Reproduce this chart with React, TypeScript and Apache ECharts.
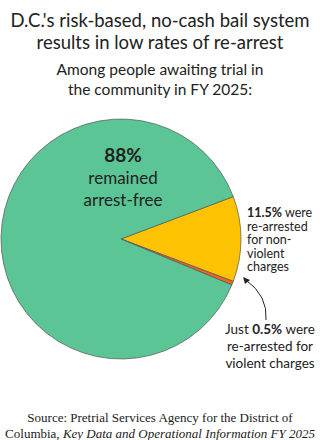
import React, { useEffect, useRef } from "react";
import * as echarts from "echarts";

const categories = ["Re-arrested, non-violent charges", "Re-arrested, violent charges", "Remained arrest-free"];
const values = [11.5, 0.5, 88];
const colors = ["#fdc202", "#f0651d", "#5bc596"];

const titleLines = ["D.C.'s risk-based, no-cash bail system", "results in low rates of re-arrest"];
const subtitleLines = ["Among people awaiting trial in", "the community in FY 2025:"];
const sourceLine1 = "Source: Pretrial Services Agency for the District of";
const sourceLine2a = "Columbia, ";
const sourceLine2b = "Key Data and Operational Information FY 2025";

const SANS = "Lato, 'Noto Sans', sans-serif";
const SERIF = "'Liberation Serif', 'DejaVu Serif', serif";

export default function App() {
  const ref = useRef<HTMLDivElement>(null);
  useEffect(() => {
    document.body.style.margin = "0";
    const chart = echarts.init(ref.current!, null, { renderer: "svg" });
    const pct = (i: number) => `${values[i]}%`;
    chart.setOption({
      animation: false,
      backgroundColor: "#ffffff",
      series: [
        {
          type: "pie",
          center: [121, 239],
          radius: 120,
          startAngle: 20.7,
          clockwise: true,
          z: 1,
          label: { show: false },
          labelLine: { show: false },
          emphasis: { disabled: true },
          itemStyle: { borderColor: "#555", borderWidth: 0.7 },
          data: categories.map((c, i) => ({
            name: c,
            value: values[i],
            itemStyle: { color: colors[i] },
          })),
        },
      ],
      graphic: {
        elements: [
          {
            type: "text",
            x: 160,
            y: 9,
            z: 100,
            style: {
              text: titleLines.join("\n"),
              fontFamily: SANS,
              fontSize: 18.5,
              lineHeight: 22,
              fill: "#222",
              align: "center",
            },
          },
          {
            type: "text",
            x: 160,
            y: 59,
            z: 100,
            style: {
              text: subtitleLines.join("\n"),
              fontFamily: SANS,
              fontSize: 15.5,
              lineHeight: 20,
              fill: "#222",
              align: "center",
            },
          },
          {
            type: "text",
            x: 123,
            y: 143,
            z: 100,
            style: {
              text: `{b|${pct(2)}}\n{n|remained}\n{n|arrest-free}`,
              align: "center",
              fill: "#222",
              rich: {
                b: { fontFamily: SANS, fontSize: 19, fontWeight: "bold", lineHeight: 23, fill: "#222" },
                n: { fontFamily: SANS, fontSize: 17, lineHeight: 22, fill: "#222" },
              },
            },
          },
          {
            type: "text",
            x: 247,
            y: 206,
            z: 100,
            style: {
              text: `{b|${pct(0)}}{n| were}\n{n|re-arrested}\n{n|for non-}\n{n|violent}\n{n|charges}`,
              align: "left",
              fill: "#222",
              rich: {
                b: { fontFamily: SANS, fontSize: 12.5, fontWeight: "bold", lineHeight: 13.5, fill: "#222" },
                n: { fontFamily: SANS, fontSize: 12.5, lineHeight: 13.5, fill: "#222" },
              },
            },
          },
          {
            type: "text",
            x: 270,
            y: 320,
            z: 100,
            style: {
              text: `{n|Just }{b|${pct(1)}}{n| were}\n{n|re-arrested for}\n{n|violent charges}`,
              align: "center",
              fill: "#222",
              rich: {
                b: { fontFamily: SANS, fontSize: 13.5, fontWeight: "bold", lineHeight: 17, fill: "#222" },
                n: { fontFamily: SANS, fontSize: 13.5, lineHeight: 17, fill: "#222" },
              },
            },
          },
          {
            type: "bezierCurve",
            z: 100,
            shape: { x1: 266, y1: 320, x2: 246, y2: 280, cpx1: 268, cpy1: 296 },
            style: { stroke: "#222", lineWidth: 1, fill: null },
          },
          {
            type: "polygon",
            z: 100,
            shape: { points: [[243, 277], [250, 280], [245, 284]] },
            style: { fill: "#222" },
          },
          {
            type: "text",
            x: 160,
            y: 409,
            z: 100,
            style: {
              text: `{n|${sourceLine1}}\n{n|${sourceLine2a}}{i|${sourceLine2b}}`,
              align: "center",
              fill: "#222",
              rich: {
                n: { fontFamily: SERIF, fontSize: 13, lineHeight: 16, fill: "#222" },
                i: { fontFamily: SERIF, fontSize: 13, lineHeight: 16, fontStyle: "italic", fill: "#222" },
              },
            },
          },
        ],
      },
    });
    return () => chart.dispose();
  }, []);
  return <div ref={ref} style={{ width: 320, height: 440 }} />;
}
